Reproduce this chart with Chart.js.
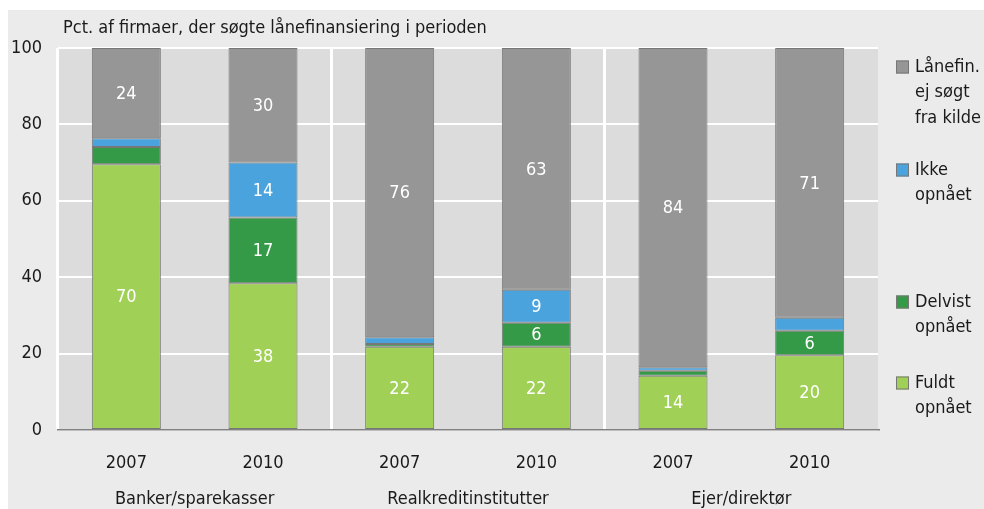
<!DOCTYPE html>
<html><head><meta charset="utf-8">
<script src="https://cdn.jsdelivr.net/npm/chart.js@4"></script>
<style>
html,body{margin:0;padding:0;background:#fff;}
#wrap{position:absolute;left:8px;top:10px;width:976px;height:499px;background:#ebebeb;}
</style></head><body>
<div id="wrap"><canvas id="c" width="976" height="499"></canvas></div>
<script>
const years = ['2007','2010','2007','2010','2007','2010'];
const groups = ['Banker/sparekasser','Realkreditinstitutter','Ejer/direktør'];
const titleText = 'Pct. af firmaer, der søgte lånefinansiering i perioden';
const names = [['Fuldt','opnået'],['Delvist','opnået'],['Ikke','opnået'],['Lånefin.','ej søgt','fra kilde']];
const fuldt   = [69.6, 38.4, 21.8, 21.8, 14.2, 19.6];
const delvist = [4.5, 17.2, 0.7, 6.3, 1.3, 6.4];
const ikke    = [2.3, 14.4, 1.8, 8.6, 0.9, 3.4];
const ejSoegt = [23.6, 30.0, 75.7, 63.3, 83.6, 70.6];
const yTicks = [0, 20, 40, 60, 80, 100];
const colors = ['#a0d055', '#359a48', '#4aa3dc', '#969696'];

const FONT = "'Liberation Sans Narrow','DejaVu Sans Condensed',sans-serif";
const FS = 18;
const TXT = '#1a1a1a';

const bgPlugin = {
  id: 'bg',
  beforeDraw(chart) {
    const {ctx, chartArea: a} = chart;
    ctx.save();
    ctx.fillStyle = '#dcdcdc';
    ctx.fillRect(a.left, a.top, a.right - a.left, a.bottom - a.top);
    ctx.restore();
  }
};

const labelPlugin = {
  id: 'labels',
  afterDatasetsDraw(chart) {
    const ctx = chart.ctx;
    ctx.save();
    ctx.font = FS + 'px ' + FONT;
    ctx.fillStyle = '#ffffff';
    ctx.textAlign = 'center';
    ctx.textBaseline = 'middle';
    chart.data.datasets.forEach((ds, di) => {
      const meta = chart.getDatasetMeta(di);
      meta.data.forEach((el, i) => {
        const v = ds.data[i];
        if (v >= 5) ctx.fillText(String(Math.round(v)), el.x, (el.y + el.base) / 2 + 1);
      });
    });
    ctx.restore();
  }
};

const extrasPlugin = {
  id: 'extras',
  afterDraw(chart) {
    const {ctx, chartArea: a} = chart;
    const xs = chart.scales.x;
    ctx.save();
    ctx.fillStyle = TXT;
    ctx.font = FS + 'px ' + FONT;
    ctx.textAlign = 'left';
    ctx.textBaseline = 'middle';
    ctx.fillText(titleText, a.left + 5, a.top - 20);
    ctx.textAlign = 'center';
    groups.forEach((g, gi) => {
      const x = (xs.getPixelForValue(gi * 2) + xs.getPixelForValue(gi * 2 + 1)) / 2;
      ctx.fillText(g, x, a.bottom + 69);
    });
    const offs = [335, 254, 122, 19];
    const lh = 25.5;
    ctx.textAlign = 'left';
    names.forEach((n, k) => {
      const y0 = a.top + offs[k];
      ctx.fillStyle = colors[k];
      ctx.fillRect(a.right + 18, y0 - 6.5, 13, 13);
      ctx.strokeStyle = '#777777';
      ctx.lineWidth = 1;
      ctx.strokeRect(a.right + 18.5, y0 - 6, 12, 12);
      ctx.fillStyle = TXT;
      n.forEach((line, li) => ctx.fillText(line, a.right + 37, y0 + li * lh));
    });
    ctx.restore();
  }
};

const series = [fuldt, delvist, ikke, ejSoegt];
new Chart(document.getElementById('c'), {
  type: 'bar',
  data: {
    labels: years,
    datasets: series.map((d, k) => ({
      label: names[k].join(' '),
      data: d,
      backgroundColor: colors[k],
      borderColor: '#777777',
      borderWidth: 1,
      borderSkipped: false,
      barPercentage: 0.505,
      categoryPercentage: 1
    }))
  },
  options: {
    responsive: false,
    animation: false,
    devicePixelRatio: 1,
    layout: {padding: {top: 38, right: 106, left: 0, bottom: 0}},
    plugins: {legend: {display: false}, tooltip: {enabled: false}, title: {display: false}},
    scales: {
      x: {
        stacked: true,
        afterFit: s => { s.height = 79; },
        grid: {
          offset: true,
          drawTicks: false,
          color: c => (c.index % 2 === 0 ? '#ffffff' : 'rgba(0,0,0,0)'),
          lineWidth: 3
        },
        border: {display: true, color: '#808080', width: 1.5},
        ticks: {font: {size: FS, family: FONT}, color: TXT, padding: 23}
      },
      y: {
        stacked: true,
        min: 0, max: 100,
        afterFit: s => { s.width = 50; },
        afterBuildTicks: s => { s.ticks = yTicks.map(v => ({value: v})); },
        grid: {color: '#ffffff', lineWidth: 2, drawTicks: false},
        border: {display: false},
        ticks: {font: {size: FS, family: FONT}, color: TXT, padding: 16}
      }
    }
  },
  plugins: [bgPlugin, labelPlugin, extrasPlugin]
});
</script>
</body></html>
